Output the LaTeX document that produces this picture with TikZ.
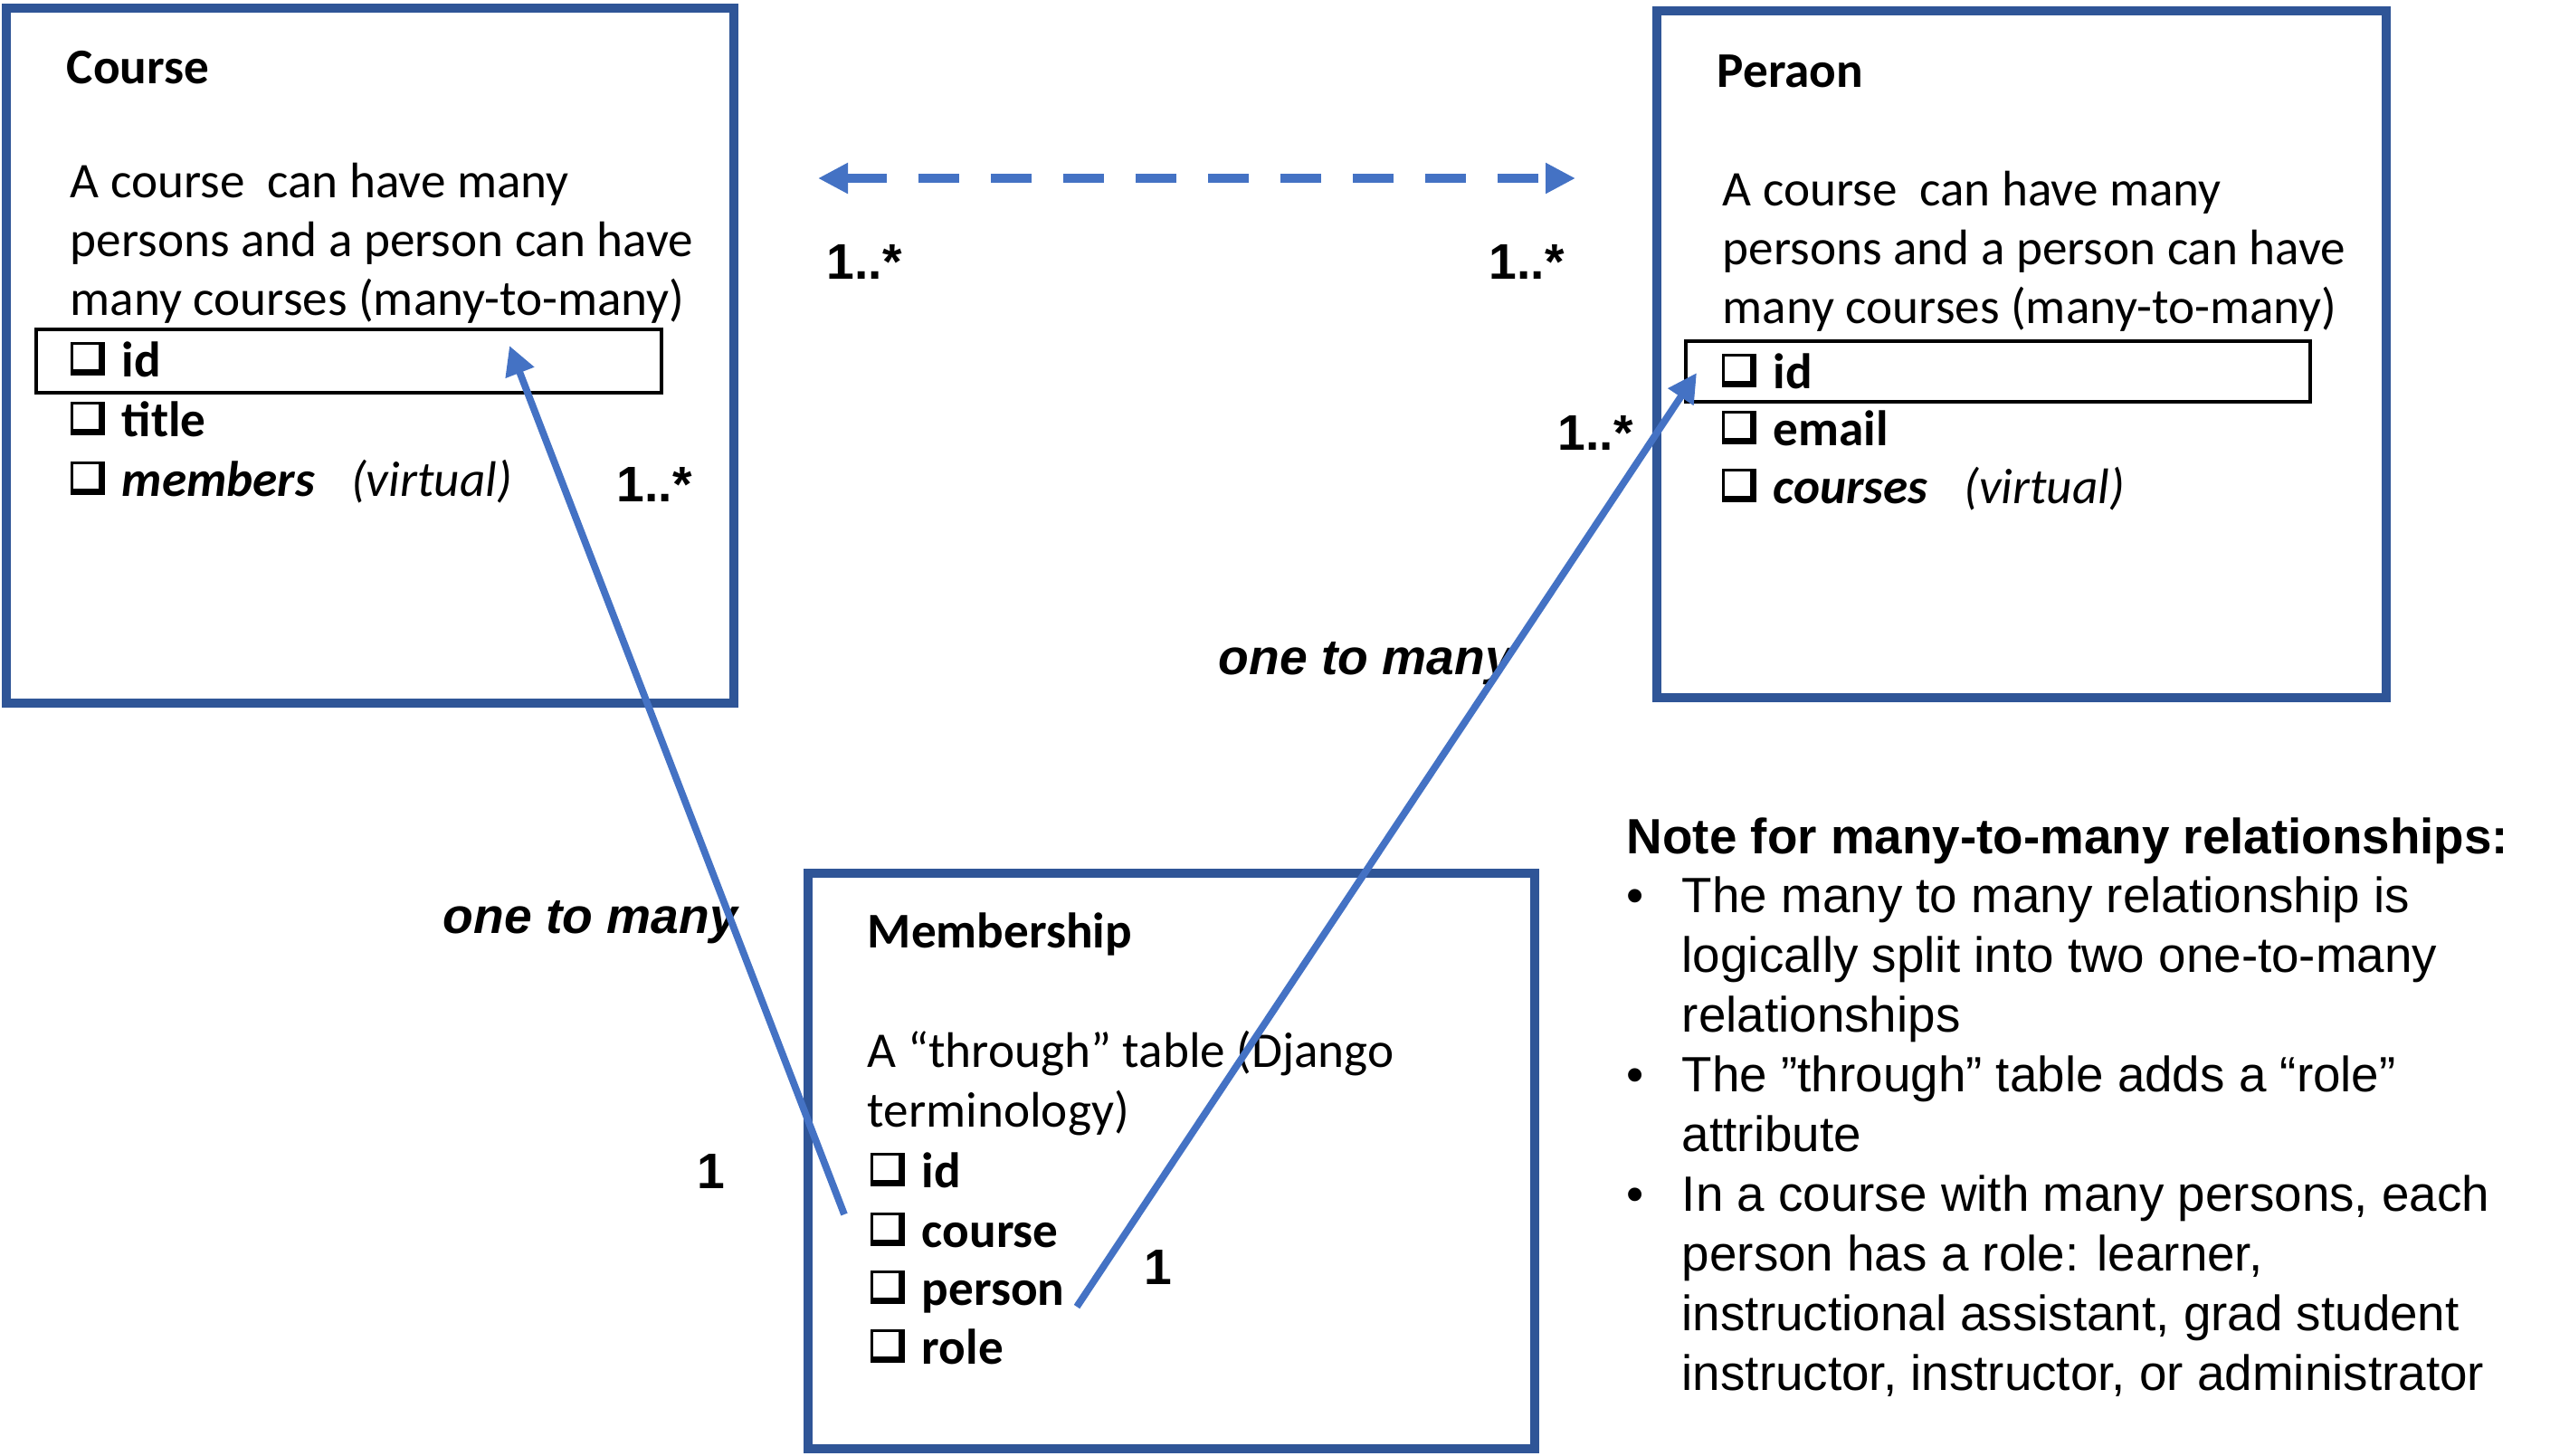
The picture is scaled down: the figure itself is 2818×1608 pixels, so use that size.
\documentclass[tikz,border=0pt]{standalone}
\usepackage{fontspec}
\setmainfont{Carlito}
\newfontfamily\arialfont{Liberation Sans}
\usetikzlibrary{arrows.meta}
\definecolor{boxblue}{HTML}{2F5597}
\definecolor{linkblue}{HTML}{4472C4}
% shadowed check box
\newcommand{\chk}{\makebox[14.25pt][l]{\rlap{\rule[0.3pt]{9.6pt}{9.2pt}}\hspace{0.7pt}{\color{white}\rule[1.9pt]{7.2pt}{6.9pt}}}}

\begin{document}
\begin{tikzpicture}[x=0.25pt, y=-0.25pt, line join=miter,
    font=\fontsize{13.8}{16.6}\selectfont,
    txt/.style={anchor=base west, inner sep=0pt},
    entity/.style={draw=boxblue, line width=2.65pt},
    keyrow/.style={draw=black, line width=1.2pt},
    link/.style={draw=linkblue, line width=1.95pt, -{Triangle[length=8pt, width=8pt]}},
    relation/.style={draw=linkblue, line width=2.5pt, dash pattern=on 11.25pt off 8.75pt,
        {Triangle[length=8.25pt, width=8pt]}-{Triangle[length=8.25pt, width=8pt]}},
    mult/.style={txt, font=\fontsize{13.8}{16.6}\selectfont\arialfont\bfseries},
    label/.style={txt, font=\fontsize{13.8}{16.6}\selectfont\arialfont\bfseries\itshape},
    notetxt/.style={txt, font=\fontsize{13.7}{16.6}\selectfont\arialfont}]
    \useasboundingbox (0,0) rectangle (2818,1608);

    % Course
    \draw[entity] (7,9) rectangle (811,777);
    \draw[keyrow] (40,364) rectangle (731,434);
    \node[txt] (course) at (73,92) {\textbf{Course}};
    \foreach \line [count=\i] in {A course\ \ can have many, persons and a person can have, many courses (many-to-many)}
        \node[txt] (course-d\i) at (77, 153+65*\i) {\line};
    \foreach \y/\item [count=\i] in {416/\textbf{id}, 482/\textbf{title}, 548/{\textbf{\textit{members}}\hspace{10pt}\textit{(virtual)}}}
        \node[txt] (course-f\i) at (77,\y) {\chk\item};
    \node[mult] (course-mult) at (681,554) {1..*};

    % Person
    \draw[entity] (1831,12) rectangle (2637,771);
    \draw[keyrow] (1863,377) rectangle (2553,444);
    \node[txt] (person) at (1897,96) {\textbf{Peraon}};
    \foreach \line [count=\i] in {A course\ \ can have many, persons and a person can have, many courses (many-to-many)}
        \node[txt] (person-d\i) at (1903, 162+65*\i) {\line};
    \foreach \y/\item [count=\i] in {429/\textbf{id}, 492/\textbf{email}, 556/{\textbf{\textit{courses}}\hspace{10pt}\textit{(virtual)}}}
        \node[txt] (person-f\i) at (1902,\y) {\chk\item};
    \node[mult] (person-mult) at (1721,497) {1..*};

    % Membership
    \draw[entity] (893,965) rectangle (1696,1601);
    \node[txt] (ms) at (958,1047) {\textbf{Membership}};
    \node[txt] (ms-d1) at (958,1179) {A “through” table (Django};
    \node[txt] (ms-d2) at (958,1245) {terminology)};
    \foreach \y/\item [count=\i] in {1312/id, 1378/course, 1442/person, 1507/role}
        \node[txt] (ms-f\i) at (961,\y) {\chk\textbf{\item}};

    % multiplicities and labels
    \node[mult] (mult-l) at (913,308) {1..*};
    \node[mult] (mult-r) at (1645,308) {1..*};
    \node[mult] (one-l) at (770,1313) {1};
    \node[mult] (one-r) at (1264,1419) {1};
    \node[label] (otm-l) at (489,1031) {one to many};
    \node[label] (otm-r) at (1346,745) {one to many};

    % note
    \node[txt, font=\fontsize{13.7}{16.6}\selectfont\arialfont\bfseries] (note) at (1797,943) {Note for many-to-many relationships:};
    \foreach \k in {0,3,5}
        \node[notetxt] (bullet-\k) at (1797, 1008+66.1*\k) {•};
    \foreach \line [count=\k from 0] in {The many to many relationship is, logically split into two one-to-many, relationships,
        The ”through” table adds a “role”, attribute, {In a course with many persons, each}, {person has a role: learner,},
        {instructional assistant, grad student}, {instructor, instructor, or administrator}}
        \node[notetxt] (note-\k) at (1858, 1008+66.1*\k) {\line};

    % connectors
    \coordinate (dash-l) at (904,197);
    \coordinate (dash-r) at (1741,197);
    \coordinate (course-key) at (563,382);
    \coordinate (person-key) at (1875,412);
    \coordinate (ms-course) at (933,1342);
    \coordinate (ms-person) at (1190,1444);
    \draw[relation] (dash-l) -- (dash-r);
    \draw[link] (ms-course) -- (course-key);
    \draw[link] (ms-person) -- (person-key);
\end{tikzpicture}
\end{document}
